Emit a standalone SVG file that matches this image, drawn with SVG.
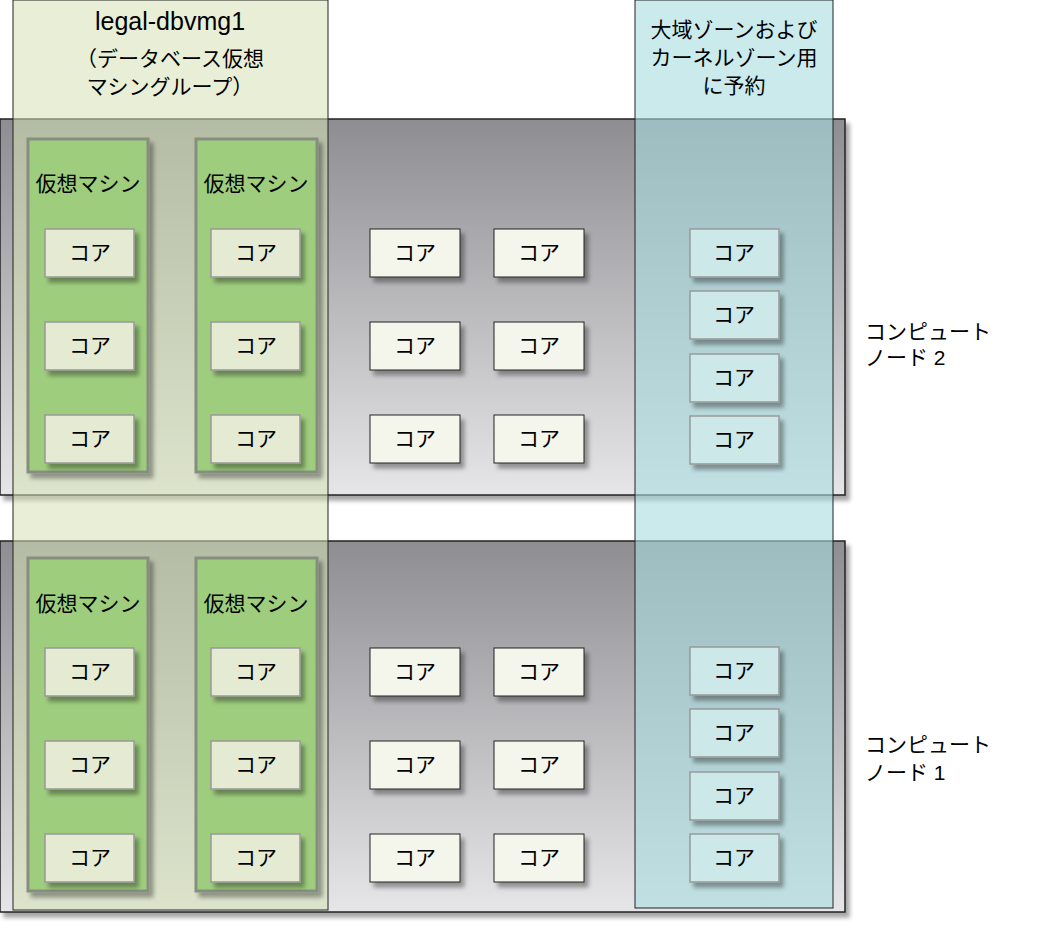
<svg xmlns="http://www.w3.org/2000/svg" width="1049" height="928" viewBox="0 0 1049 928">
<defs>
<linearGradient id="g" x1="0" y1="0" x2="0" y2="1"><stop offset="0" stop-color="#8e8e92"/><stop offset="1" stop-color="#e6e6e8"/></linearGradient>
<filter id="sh" x="-10%" y="-10%" width="130%" height="130%"><feDropShadow dx="4" dy="5" stdDev="3" flood-color="#000" flood-opacity="0.35"/></filter>
<style>
text{font-family:"Liberation Sans","Noto Sans CJK JP",sans-serif;font-size:21px;fill:#000}
.node{fill:url(#g);stroke:#222;stroke-width:1.5;filter:url(#sh)}
.vm{fill:#9ecd7e;stroke:#868e80;stroke-width:3;filter:url(#sh)}
.c1{fill:#e5ebd2;stroke:#999;stroke-width:1.5;filter:url(#sh)}
.c2{fill:#f4f6ec;stroke:#222;stroke-width:1;filter:url(#sh)}
.c3{fill:#cce8e8;stroke:#999;stroke-width:1.5;filter:url(#sh)}
.ct{text-anchor:middle}
</style>
</defs>
<g id="node2"><rect class="node" x="0" y="119" width="845" height="376"/></g>
<g id="node1"><rect class="node" x="0" y="541" width="845" height="371"/></g>
<g id="dbvmg"><rect x="13" y="0" width="315" height="910" fill="#d6e2b4" fill-opacity="0.55" stroke="#222" stroke-width="1"/>
<text class="ct" x="170" y="30" style="font-size:25px">legal-dbvmg1</text><text class="ct" x="170" y="66">（データベース仮想</text><text class="ct" x="170" y="94">マシングループ）</text></g>
<g id="reserved"><rect x="635" y="0" width="198" height="908" fill="#a8dce0" fill-opacity="0.6" stroke="#222" stroke-width="1"/>
<text class="ct" x="734" y="37">大域ゾーンおよび</text><text class="ct" x="734" y="65">カーネルゾーン用</text><text class="ct" x="734" y="93">に予約</text></g>
<g id="labels"><text x="865" y="339">コンピュート</text><text x="865" y="365">ノード 2</text><text x="865" y="752">コンピュート</text><text x="865" y="780">ノード 1</text></g>
<g id="vms">
<rect class="vm" x="28" y="139" width="120" height="333"/><rect class="vm" x="196" y="139" width="121" height="333"/>
<rect class="vm" x="28" y="558" width="120" height="333"/><rect class="vm" x="196" y="558" width="121" height="333"/>
<text class="ct" x="88" y="191">仮想マシン</text><text class="ct" x="256" y="191">仮想マシン</text>
<text class="ct" x="88" y="611">仮想マシン</text><text class="ct" x="256" y="611">仮想マシン</text>
</g>
<g id="cores">
<g id="vmcores">
<rect class="c1" x="45" y="229" width="89" height="48"/><rect class="c1" x="45" y="322" width="89" height="48"/><rect class="c1" x="45" y="415" width="89" height="48"/>
<rect class="c1" x="211" y="229" width="89" height="48"/><rect class="c1" x="211" y="322" width="89" height="48"/><rect class="c1" x="211" y="415" width="89" height="48"/>
<rect class="c1" x="45" y="648" width="89" height="48"/><rect class="c1" x="45" y="741" width="89" height="48"/><rect class="c1" x="45" y="834" width="89" height="48"/>
<rect class="c1" x="211" y="648" width="89" height="48"/><rect class="c1" x="211" y="741" width="89" height="48"/><rect class="c1" x="211" y="834" width="89" height="48"/>
</g>
<g id="freecores">
<rect class="c2" x="370" y="229" width="90" height="48"/><rect class="c2" x="370" y="322" width="90" height="48"/><rect class="c2" x="370" y="415" width="90" height="48"/>
<rect class="c2" x="494" y="229" width="90" height="48"/><rect class="c2" x="494" y="322" width="90" height="48"/><rect class="c2" x="494" y="415" width="90" height="48"/>
<rect class="c2" x="370" y="648" width="90" height="48"/><rect class="c2" x="370" y="741" width="90" height="48"/><rect class="c2" x="370" y="834" width="90" height="48"/>
<rect class="c2" x="494" y="648" width="90" height="48"/><rect class="c2" x="494" y="741" width="90" height="48"/><rect class="c2" x="494" y="834" width="90" height="48"/>
</g>
<g id="rescores">
<rect class="c3" x="690" y="229" width="89" height="48"/><rect class="c3" x="690" y="291" width="89" height="48"/><rect class="c3" x="690" y="354" width="89" height="48"/><rect class="c3" x="690" y="416" width="89" height="48"/>
<rect class="c3" x="690" y="647" width="89" height="48"/><rect class="c3" x="690" y="709" width="89" height="48"/><rect class="c3" x="690" y="772" width="89" height="48"/><rect class="c3" x="690" y="834" width="89" height="48"/>
</g>
<g>
<text class="ct" x="90" y="260">コア</text><text class="ct" x="90" y="353">コア</text><text class="ct" x="90" y="446">コア</text>
<text class="ct" x="256" y="260">コア</text><text class="ct" x="256" y="353">コア</text><text class="ct" x="256" y="446">コア</text>
<text class="ct" x="90" y="679">コア</text><text class="ct" x="90" y="772">コア</text><text class="ct" x="90" y="865">コア</text>
<text class="ct" x="256" y="679">コア</text><text class="ct" x="256" y="772">コア</text><text class="ct" x="256" y="865">コア</text>
<text class="ct" x="415" y="260">コア</text><text class="ct" x="415" y="353">コア</text><text class="ct" x="415" y="446">コア</text>
<text class="ct" x="539" y="260">コア</text><text class="ct" x="539" y="353">コア</text><text class="ct" x="539" y="446">コア</text>
<text class="ct" x="415" y="679">コア</text><text class="ct" x="415" y="772">コア</text><text class="ct" x="415" y="865">コア</text>
<text class="ct" x="539" y="679">コア</text><text class="ct" x="539" y="772">コア</text><text class="ct" x="539" y="865">コア</text>
<text class="ct" x="734" y="260">コア</text><text class="ct" x="734" y="322">コア</text><text class="ct" x="734" y="385">コア</text><text class="ct" x="734" y="447">コア</text>
<text class="ct" x="734" y="678">コア</text><text class="ct" x="734" y="740">コア</text><text class="ct" x="734" y="803">コア</text><text class="ct" x="734" y="865">コア</text>
</g>
</g>
</svg>
